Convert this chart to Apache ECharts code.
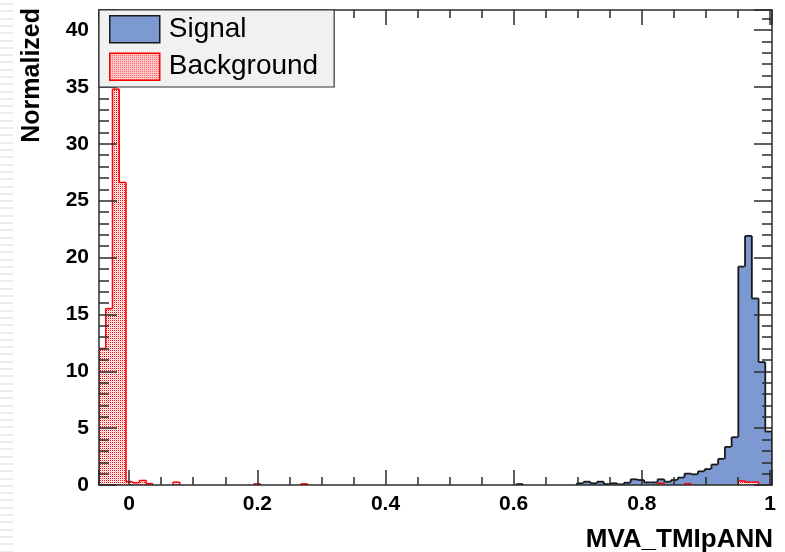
<!DOCTYPE html>
<html>
<head>
<meta charset="utf-8">
<script src="https://cdn.jsdelivr.net/npm/echarts@6/dist/echarts.min.js"></script>
<style>
  html, body { margin: 0; padding: 0; background: #ffffff; }
  #chart { width: 785px; height: 552px; }
</style>
</head>
<body>
<div id="chart"></div>
<script>
// Histogram binning of the MVA output
const xRange = [-0.047, 1.003];
const nBins = 100;

// Normalized bin contents, signal (100 bins)
const signalValues = [
  0, 0, 0, 0, 0, 0, 0, 0, 0, 0,
  0, 0, 0, 0, 0, 0, 0, 0, 0, 0,
  0, 0, 0, 0, 0, 0, 0, 0, 0, 0,
  0, 0, 0, 0, 0, 0, 0, 0, 0, 0,
  0, 0, 0, 0, 0, 0, 0, 0, 0, 0,
  0, 0, 0, 0, 0, 0, 0, 0, 0, 0,
  0, 0, 0.08, 0, 0, 0, 0, 0, 0, 0,
  0, 0.15, 0.29, 0.15, 0.29, 0.08, 0.15, 0.06, 0.2, 0.5,
  0.44, 0.23, 0.23, 0.5, 0.29, 0.44, 0.65, 1.0, 0.94, 1.2,
  1.4, 1.8, 2.3, 3.35, 4.2, 19.2, 21.9, 16.4, 10.8, 4.7
];

// Normalized bin contents, background (100 bins)
const backgroundValues = [
  12.0, 15.5, 34.8, 26.6, 0.3, 0.2, 0.4, 0.12, 0, 0,
  0, 0.25, 0, 0, 0, 0, 0, 0, 0, 0,
  0, 0, 0, 0.1, 0, 0, 0, 0, 0, 0,
  0.1, 0, 0, 0, 0, 0, 0, 0, 0, 0,
  0, 0, 0, 0, 0, 0, 0, 0, 0, 0,
  0, 0, 0, 0, 0, 0, 0, 0, 0, 0,
  0, 0, 0, 0, 0, 0, 0, 0, 0, 0,
  0, 0, 0, 0, 0, 0, 0, 0, 0, 0,
  0, 0, 0, 0.15, 0, 0, 0, 0.12, 0, 0,
  0, 0, 0, 0, 0, 0.35, 0.25, 0.25, 0, 0
];

// Labelled tick positions
const xTickValues = [0, 0.2, 0.4, 0.6, 0.8, 1];
const yTickValues = [0, 5, 10, 15, 20, 25, 30, 35, 40];
const yMax = 41.76;

const seriesNames = ['Signal', 'Background'];
const xTitle = 'MVA_TMIpANN';
const yTitle = 'Normalized';

const binWidth = (xRange[1] - xRange[0]) / nBins;
const edges = [];
for (let i = 0; i <= nBins; i++) edges.push(xRange[0] + i * binWidth);

// Red dotted fill used for the background histogram
function makeDotPattern() {
  const c = document.createElement('canvas');
  c.width = 2; c.height = 2;
  const ctx = c.getContext('2d');
  ctx.fillStyle = '#ffffff';
  ctx.fillRect(0, 0, 2, 2);
  ctx.fillStyle = '#ff0000';
  ctx.fillRect(0, 0, 1, 1);
  ctx.fillStyle = '#ffc0c0';
  ctx.fillRect(1, 1, 1, 1);
  return { image: c, repeat: 'repeat' };
}
const bgPattern = makeDotPattern();

const FONT = '"Liberation Sans", Arial, Helvetica, sans-serif';
const FRAME = '#2b2b2b';

function histSeries(name, values, fill, stroke, lw) {
  const data = values.map((v, i) => [edges[i], edges[i + 1], v, i > 0 ? values[i - 1] : 0]);
  return {
    type: 'custom',
    name: name,
    data: data,
    clip: true,
    z: 2,
    itemStyle: { color: fill, borderColor: stroke },
    encode: { x: [0, 1], y: 2 },
    renderItem: function (params, api) {
      const lo = api.value(0), hi = api.value(1), v = api.value(2), prev = api.value(3);
      const base = api.coord([lo, 0]);
      const top = api.coord([hi, v]);
      const prevPt = api.coord([lo, prev]);
      const children = [];
      if (v > 0) {
        // slight overlap so neighbouring bins fill without seams
        children.push({
          type: 'rect',
          shape: { x: base[0] - 0.5, y: top[1], width: top[0] - base[0] + 1, height: base[1] - top[1] },
          style: { fill: fill }
        });
        children.push({
          type: 'line',
          shape: { x1: base[0], y1: top[1], x2: top[0], y2: top[1] },
          style: { stroke: stroke, lineWidth: lw }
        });
      }
      if (v !== prev) {
        children.push({
          type: 'line',
          shape: { x1: base[0], y1: prevPt[1], x2: base[0], y2: top[1] },
          style: { stroke: stroke, lineWidth: lw }
        });
      }
      if (params.dataIndex === values.length - 1 && v > 0) {
        children.push({
          type: 'line',
          shape: { x1: top[0], y1: top[1], x2: top[0], y2: base[1] },
          style: { stroke: stroke, lineWidth: lw }
        });
      }
      return { type: 'group', children: children };
    }
  };
}

function isTick(v, list) {
  return list.some(t => Math.abs(t - v) < 1e-6);
}

function axisBase(extra) {
  return Object.assign({
    type: 'value',
    z: 10,
    axisLine: { show: true, onZero: false, lineStyle: { color: FRAME, width: 1.5 } },
    splitLine: { show: false },
    minorSplitLine: { show: false }
  }, extra);
}

const xTick = { show: true, inside: true, length: 15, lineStyle: { color: FRAME, width: 1.5 } };
const xMinor = { show: true, splitNumber: 4, length: 8, lineStyle: { color: FRAME, width: 1.5 } };
const yTick = { show: true, inside: true, length: 18, lineStyle: { color: FRAME, width: 1.5 } };
const yMinor = { show: true, splitNumber: 5, length: 10, lineStyle: { color: FRAME, width: 1.5 } };

// Left edge decoration: faint horizontal stripes
const stripes = [];
for (let y = 3; y < 552; y += 7.3) {
  stripes.push({
    type: 'rect',
    shape: { x: 0, y: Math.round(y), width: 13, height: 2 },
    style: { fill: '#ececec' },
    silent: true
  });
}

const chart = echarts.init(document.getElementById('chart'), null, { renderer: 'canvas' });

chart.setOption({
  animation: false,
  backgroundColor: '#ffffff',
  grid: { left: 99, top: 10, width: 673, height: 475, containLabel: false },
  xAxis: [
    axisBase({
      position: 'bottom', min: xRange[0], max: xRange[1], splitNumber: 5,
      axisTick: xTick, minorTick: xMinor,
      axisLabel: {
        show: true, margin: 9, color: '#000', fontFamily: FONT, fontWeight: 'bold', fontSize: 21,
        showMinLabel: false, showMaxLabel: false,
        formatter: v => isTick(v, xTickValues) ? String(+v.toFixed(2)) : ''
      }
    }),
    axisBase({
      position: 'top', min: xRange[0], max: xRange[1], splitNumber: 5,
      axisTick: xTick, minorTick: xMinor, axisLabel: { show: false }
    })
  ],
  yAxis: [
    axisBase({
      position: 'left', min: 0, max: yMax, splitNumber: 8,
      axisTick: yTick, minorTick: yMinor,
      axisLabel: {
        show: true, margin: 10, color: '#000', fontFamily: FONT, fontWeight: 'bold', fontSize: 21,
        formatter: v => isTick(v, yTickValues) ? String(v) : ''
      }
    }),
    axisBase({
      position: 'right', min: 0, max: yMax, splitNumber: 8,
      axisTick: yTick, minorTick: yMinor, axisLabel: { show: false }
    })
  ],
  legend: {
    left: 99, top: 10, orient: 'vertical', z: 20,
    padding: [5, 16, 6, 10], itemGap: 9, itemWidth: 50, itemHeight: 27,
    backgroundColor: '#f1f1f1', borderColor: '#333333', borderWidth: 1.2,
    selectedMode: false,
    textStyle: { fontSize: 28, color: '#000', fontFamily: FONT, padding: [0, 0, 0, 4] },
    data: [
      { name: seriesNames[0], icon: 'rect', itemStyle: { color: '#7d99d1', borderColor: '#1a1a1a', borderWidth: 1.5 } },
      { name: seriesNames[1], icon: 'rect', itemStyle: { color: bgPattern, borderColor: '#ff0000', borderWidth: 1.5 } }
    ]
  },
  graphic: [
    { type: 'group', children: stripes, silent: true },
    {
      type: 'text', x: 32, y: 8, rotation: Math.PI / 2, z: 30,
      style: { text: yTitle, fill: '#000', font: 'bold 25px ' + FONT, align: 'right', verticalAlign: 'middle' }
    },
    {
      type: 'text', x: 773, y: 540, z: 30,
      style: { text: xTitle, fill: '#000', font: 'bold 26px ' + FONT, align: 'right', verticalAlign: 'middle' }
    }
  ],
  series: [
    histSeries(seriesNames[0], signalValues, '#7d99d1', '#1a1a1a', 1.8),
    histSeries(seriesNames[1], backgroundValues, bgPattern, '#ff0000', 1.5)
  ]
});
</script>
</body>
</html>
